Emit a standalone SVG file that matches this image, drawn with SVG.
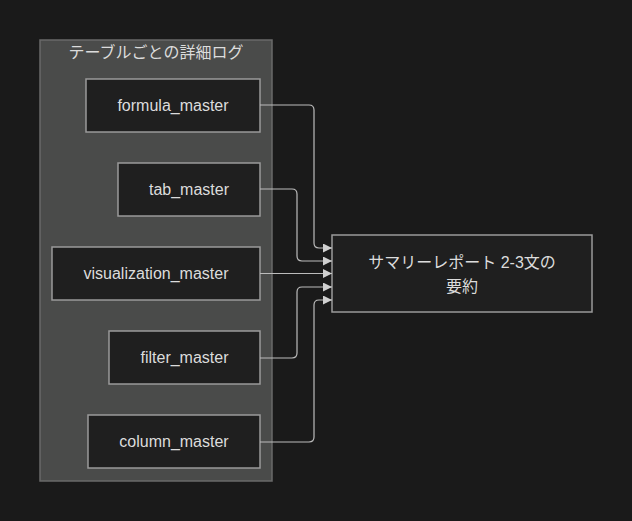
<svg xmlns="http://www.w3.org/2000/svg" width="632" height="521" viewBox="0 0 632 521">
<defs>
<style>
.bg{fill:#1a1a1a}
.cluster{fill:#4a4b4a;stroke:#6a6a6a;stroke-width:1.5}
.node rect{fill:#1f1f1f;stroke:#9a9a9a;stroke-width:1.5}
text{font-family:"Liberation Sans","Noto Sans CJK JP",sans-serif;font-size:16px;fill:#dcdcdc;text-anchor:middle}
.edge{fill:none;stroke:#bcbcbc;stroke-width:1.2}
</style>
<marker id="arr" viewBox="0 0 10 10" refX="10" refY="5" markerWidth="9" markerHeight="9" markerUnits="userSpaceOnUse" orient="auto">
<path d="M0,0 L10,5 L0,10 z" fill="#d0d0d0"/>
</marker>
</defs>
<rect class="bg" x="0" y="0" width="632" height="521"/>
<g id="cluster">
<rect class="cluster" x="40" y="40" width="232" height="441"/>
<text x="156" y="58">テーブルごとの詳細ログ</text>
</g>
<g id="formula_master" class="node"><rect x="86" y="79" width="174" height="53"/><text x="173" y="111">formula_master</text></g>
<g id="tab_master" class="node"><rect x="118" y="163" width="142" height="53"/><text x="189" y="195">tab_master</text></g>
<g id="visualization_master" class="node"><rect x="52" y="247" width="208" height="53"/><text x="156" y="279">visualization_master</text></g>
<g id="filter_master" class="node"><rect x="109" y="331" width="151" height="53"/><text x="184.5" y="363">filter_master</text></g>
<g id="column_master" class="node"><rect x="88" y="415" width="172" height="53"/><text x="174" y="447">column_master</text></g>
<g id="summary" class="node"><rect x="332" y="235" width="260" height="77"/><text x="462" y="268">サマリーレポート 2-3文の</text><text x="462" y="292">要約</text></g>
<g id="edges">
<path class="edge" d="M260,105 H309 Q314,105 314,110 V243 Q314,248 319,248 H332" marker-end="url(#arr)"/>
<path class="edge" d="M260,189 H292 Q297,189 297,194 V256 Q297,261 302,261 H332" marker-end="url(#arr)"/>
<path class="edge" d="M260,273.5 H332" marker-end="url(#arr)"/>
<path class="edge" d="M260,358 H292 Q297,358 297,353 V292 Q297,287 302,287 H332" marker-end="url(#arr)"/>
<path class="edge" d="M260,442 H309 Q314,442 314,437 V305 Q314,300 319,300 H332" marker-end="url(#arr)"/>
</g>
</svg>
